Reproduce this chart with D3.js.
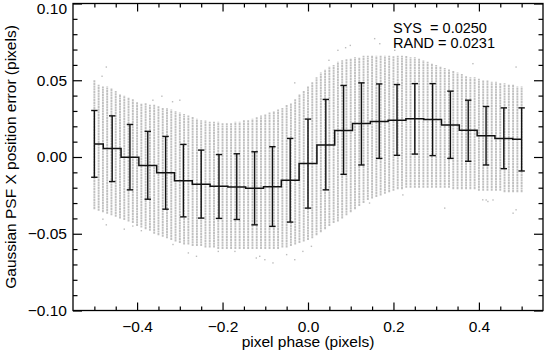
<!DOCTYPE html>
<html>
<head>
<meta charset="utf-8">
<script src="https://cdn.jsdelivr.net/npm/d3@7"></script>
<style>
  body { margin: 0; background: #fff; }
  text { font-family: "Liberation Sans", Arial, Helvetica, sans-serif; fill: #000; }
</style>
</head>
<body>
<div id="container"></div>
<script>
// binned means with +/- 1 sigma bars
const binPhase = [-0.5, -0.4583, -0.4167, -0.375, -0.3333, -0.2917, -0.25, -0.2083, -0.1667, -0.125, -0.0833, -0.0417, 0,
  0.0417, 0.0833, 0.125, 0.1667, 0.2083, 0.25, 0.2917, 0.3333, 0.375, 0.4167, 0.4583, 0.5]
const binMean = [0.0084, 0.0056, -0.0002, -0.0056, -0.0102, -0.0154, -0.0177, -0.0190, -0.0195, -0.0203, -0.0193, -0.0152, -0.0043,
  0.0078, 0.0173, 0.0219, 0.0232, 0.0240, 0.0249, 0.0245, 0.0208, 0.0175, 0.0139, 0.0121, 0.0115]
const binLo = [-0.0132, -0.0160, -0.0214, -0.0275, -0.0340, -0.0390, -0.0398, -0.0400, -0.0407, -0.0442, -0.0452, -0.0424, -0.0333,
  -0.0214, -0.0113, -0.0052, -0.0009, 0.0011, 0.0019, 0.0009, -0.0009, -0.0028, -0.0052, -0.0076, -0.0091]
const binHi = [0.0303, 0.0268, 0.0212, 0.0167, 0.0134, 0.0082, 0.0045, 0.0016, 0.0021, 0.0034, 0.0067, 0.0121, 0.0247,
  0.0375, 0.0466, 0.0483, 0.0476, 0.0472, 0.0478, 0.0478, 0.0429, 0.0370, 0.0329, 0.0320, 0.0320]

// grey point columns (dense part of each column)
const columnPhase = [-0.50, -0.49, -0.48, -0.47, -0.46, -0.45, -0.44, -0.43, -0.42, -0.41, -0.40, -0.39, -0.38, -0.37, -0.36, -0.35, -0.34,
  -0.33, -0.32, -0.31, -0.30, -0.29, -0.28, -0.27, -0.26, -0.25, -0.24, -0.23, -0.22, -0.21, -0.20, -0.19, -0.18, -0.17, -0.16, -0.15,
  -0.14, -0.13, -0.12, -0.11, -0.10, -0.09, -0.08, -0.07, -0.06, -0.05, -0.04, -0.03, -0.02, -0.01, 0.00, 0.01, 0.02, 0.03, 0.04, 0.05,
  0.06, 0.07, 0.08, 0.09, 0.10, 0.11, 0.12, 0.13, 0.14, 0.15, 0.16, 0.17, 0.18, 0.19, 0.20, 0.21, 0.22, 0.23, 0.24, 0.25, 0.26, 0.27,
  0.28, 0.29, 0.30, 0.31, 0.32, 0.33, 0.34, 0.35, 0.36, 0.37, 0.38, 0.39, 0.40, 0.41, 0.42, 0.43, 0.44, 0.45, 0.46, 0.47, 0.48, 0.49, 0.50]
const columnHi = [0.050, 0.047, 0.046, 0.046, 0.045, 0.043, 0.041, 0.040, 0.039, 0.038, 0.036, 0.035, 0.035, 0.034, 0.034, 0.033, 0.032,
  0.032, 0.031, 0.030, 0.029, 0.028, 0.027, 0.026, 0.025, 0.024, 0.024, 0.023, 0.023, 0.023, 0.022, 0.022, 0.022, 0.023, 0.023, 0.024,
  0.024, 0.025, 0.026, 0.027, 0.028, 0.029, 0.030, 0.031, 0.032, 0.034, 0.035, 0.038, 0.041, 0.043, 0.046, 0.049, 0.052, 0.055, 0.057, 0.059,
  0.060, 0.062, 0.063, 0.064, 0.064, 0.065, 0.065, 0.066, 0.066, 0.066, 0.066, 0.066, 0.066, 0.066, 0.066, 0.066, 0.066, 0.066, 0.065, 0.065, 0.064, 0.063,
  0.062, 0.061, 0.060, 0.059, 0.058, 0.057, 0.056, 0.055, 0.054, 0.053, 0.052, 0.052, 0.051, 0.050, 0.050, 0.049, 0.049, 0.048, 0.048, 0.047, 0.047, 0.046, 0.046]
const columnLo = [-0.034, -0.035, -0.036, -0.037, -0.038, -0.039, -0.040, -0.041, -0.042, -0.043, -0.045, -0.046, -0.047, -0.048, -0.050, -0.051, -0.052,
  -0.053, -0.054, -0.055, -0.056, -0.057, -0.057, -0.058, -0.058, -0.058, -0.059, -0.059, -0.059, -0.060, -0.060, -0.060, -0.060, -0.060, -0.060, -0.060,
  -0.060, -0.060, -0.060, -0.060, -0.060, -0.060, -0.060, -0.060, -0.059, -0.059, -0.058, -0.057, -0.056, -0.055, -0.054, -0.053, -0.051, -0.049, -0.047, -0.045,
  -0.043, -0.042, -0.040, -0.038, -0.036, -0.034, -0.032, -0.030, -0.028, -0.027, -0.026, -0.025, -0.024, -0.023, -0.022, -0.021, -0.021, -0.020, -0.020, -0.020, -0.020, -0.020,
  -0.020, -0.020, -0.020, -0.020, -0.020, -0.020, -0.021, -0.021, -0.021, -0.021, -0.021, -0.021, -0.022, -0.022, -0.022, -0.022, -0.022, -0.022, -0.023, -0.023, -0.023, -0.023, -0.023]

// stray points outside the dense columns
const outlierPhase = [-0.482, -0.472, -0.363, -0.342, -0.317, -0.30, -0.48, -0.472, -0.43, -0.41, -0.39, -0.316, -0.28, -0.261, -0.21,
  -0.171, -0.121, -0.113, -0.101, -0.082, -0.05, -0.031, -0.012, 0.008, -0.031, 0.049, 0.07, 0.088, 0.099, 0.156, 0.168, 0.203, 0.277,
  0.386, 0.487, 0.409, 0.421, 0.433, 0.48, 0.487, 0.32, 0.222, 0.417, 0.144]
const outlierErr = [0.0526, 0.0586, 0.037, 0.0396, 0.036, 0.037, -0.0405, -0.0442, -0.047, -0.045, -0.048, -0.057, -0.0625, -0.0647, -0.0615,
  -0.0615, -0.0658, -0.0647, -0.0669, -0.069, -0.0636, -0.0669, -0.0615, -0.0582, 0.0483, 0.063, 0.0695, 0.0712, 0.0727, 0.0771, 0.0738, 0.0695, 0.0717,
  0.0608, 0.0586, -0.0279, -0.029, -0.028, -0.0366, -0.0344, -0.0333, -0.0247, -0.028, -0.030]

const xMajorTicks = [-0.4, -0.2, 0.0, 0.2, 0.4]
const yMajorTicks = [-0.10, -0.05, 0.00, 0.05, 0.10]
const statLines = ['SYS  = 0.0250', 'RAND = 0.0231']

const width = 546
const height = 354
const plotLeft = 73, plotRight = 543, plotTop = 3.5, plotBottom = 310.5

const xScale = d3.scaleLinear().domain([-0.55, 0.55]).range([plotLeft, plotRight])
const yScale = d3.scaleLinear().domain([-0.10, 0.10]).range([plotBottom, plotTop])

const svg = d3.select('#container').append('svg')
    .attr('width', width)
    .attr('height', height)

// point columns
svg.append('g')
    .selectAll('line')
    .data(columnPhase)
    .enter()
    .append('line')
    .attr('x1', d => xScale(d))
    .attr('x2', d => xScale(d))
    .attr('y1', (d, i) => yScale(columnLo[i]))
    .attr('y2', (d, i) => yScale(columnHi[i]))
    .attr('stroke', '#c0c0c0')
    .attr('stroke-width', 1.9)
    .attr('stroke-dasharray', '2.2,0.5')

svg.append('g')
    .selectAll('rect')
    .data(outlierPhase)
    .enter()
    .append('rect')
    .attr('x', d => xScale(d) - 0.7)
    .attr('y', (d, i) => yScale(outlierErr[i]) - 0.7)
    .attr('width', 1.4)
    .attr('height', 1.4)
    .attr('fill', '#bdbdbd')

// error bars
const bars = svg.append('g').attr('stroke', '#111').attr('stroke-width', 1.4)
bars.selectAll('line.v')
    .data(binPhase)
    .enter()
    .append('line')
    .attr('class', 'v')
    .attr('x1', d => xScale(d))
    .attr('x2', d => xScale(d))
    .attr('y1', (d, i) => yScale(binLo[i]))
    .attr('y2', (d, i) => yScale(binHi[i]))
bars.selectAll('line.cap')
    .data(binPhase.flatMap((d, i) => [[d, binLo[i]], [d, binHi[i]]]))
    .enter()
    .append('line')
    .attr('class', 'cap')
    .attr('x1', d => xScale(d[0]) - 3.2)
    .attr('x2', d => xScale(d[0]) + 3.2)
    .attr('y1', d => yScale(d[1]))
    .attr('y2', d => yScale(d[1]))

// histogram style mean line
const stepLine = d3.line()
    .x(d => xScale(d[0]))
    .y(d => yScale(d[1]))
    .curve(d3.curveStep)
svg.append('path')
    .datum(binPhase.map((d, i) => [d, binMean[i]]))
    .attr('d', stepLine)
    .attr('fill', 'none')
    .attr('stroke', '#111')
    .attr('stroke-width', 1.5)

// axes, ticks pointing inward on all four sides
const xMinor = d3.range(-10, 11).map(k => k * 0.05).filter(v => Math.abs(Math.round(v * 100) % 20) !== 0)
const yMinor = d3.range(-9, 10).map(k => k * 0.01).filter(v => Math.abs(Math.round(v * 100) % 5) !== 0)

function styleAxis(g){
    g.select('.domain').remove()
    g.selectAll('line').attr('stroke', '#000').attr('stroke-width', 1.2)
    g.selectAll('text').style('font-size', '15.5px').attr('fill', '#000')
}

svg.append('g').attr('transform', `translate(0, ${plotBottom})`)
    .call(d3.axisBottom(xScale).tickValues(xMajorTicks).tickSize(-8).tickPadding(10).tickFormat(d3.format('.1f')))
    .call(styleAxis)
svg.append('g').attr('transform', `translate(0, ${plotBottom})`)
    .call(d3.axisBottom(xScale).tickValues(xMinor).tickSize(-4).tickFormat(''))
    .call(styleAxis)
svg.append('g').attr('transform', `translate(0, ${plotTop})`)
    .call(d3.axisTop(xScale).tickValues(xMajorTicks).tickSize(-8).tickFormat(''))
    .call(styleAxis)
svg.append('g').attr('transform', `translate(0, ${plotTop})`)
    .call(d3.axisTop(xScale).tickValues(xMinor).tickSize(-4).tickFormat(''))
    .call(styleAxis)

const yAxisG = svg.append('g').attr('transform', `translate(${plotLeft}, 0)`)
    .call(d3.axisLeft(yScale).tickValues(yMajorTicks).tickSize(-9).tickPadding(6).tickFormat(d3.format('.2f')))
    .call(styleAxis)
// keep the top label inside the picture, as in the original
yAxisG.selectAll('text').filter(d => d === 0.10).attr('dy', '0.62em')

svg.append('g').attr('transform', `translate(${plotLeft}, 0)`)
    .call(d3.axisLeft(yScale).tickValues(yMinor).tickSize(-4.5).tickFormat(''))
    .call(styleAxis)
svg.append('g').attr('transform', `translate(${plotRight}, 0)`)
    .call(d3.axisRight(yScale).tickValues(yMajorTicks).tickSize(-9).tickFormat(''))
    .call(styleAxis)
svg.append('g').attr('transform', `translate(${plotRight}, 0)`)
    .call(d3.axisRight(yScale).tickValues(yMinor).tickSize(-4.5).tickFormat(''))
    .call(styleAxis)

svg.append('rect')
    .attr('x', plotLeft).attr('y', plotTop)
    .attr('width', plotRight - plotLeft).attr('height', plotBottom - plotTop)
    .attr('fill', 'none')
    .attr('stroke', '#000')
    .attr('stroke-width', 1.3)

// labels
svg.append('text')
    .attr('x', (plotLeft + plotRight) / 2)
    .attr('y', 347)
    .attr('text-anchor', 'middle')
    .style('font-size', '15.5px')
    .text('pixel phase (pixels)')

svg.append('text')
    .attr('transform', `translate(16, ${(plotTop + plotBottom) / 2}) rotate(-90)`)
    .attr('text-anchor', 'middle')
    .style('font-size', '15.5px')
    .text('Gaussian PSF X position error (pixels)')

svg.append('g')
    .selectAll('text')
    .data(statLines)
    .enter()
    .append('text')
    .attr('x', 393)
    .attr('y', (d, i) => 33 + i * 15)
    .style('font-size', '14.5px')
    .style('white-space', 'pre')
    .text(d => d)
</script>
</body>
</html>
